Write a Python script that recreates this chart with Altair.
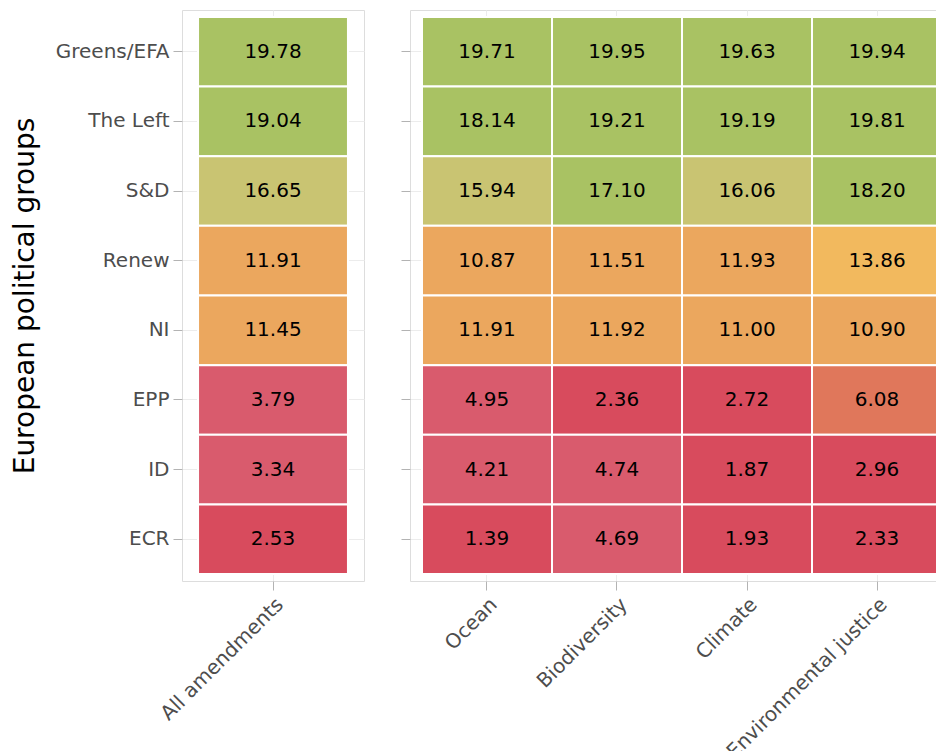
import altair as alt
import pandas as pd

groups = ["Greens/EFA", "The Left", "S&D", "Renew", "NI", "EPP", "ID", "ECR"]
all_amendments = [19.78, 19.04, 16.65, 11.91, 11.45, 3.79, 3.34, 2.53]
topics = ["Ocean", "Biodiversity", "Climate", "Environmental justice"]
ocean = [19.71, 18.14, 15.94, 10.87, 11.91, 4.95, 4.21, 1.39]
biodiversity = [19.95, 19.21, 17.10, 11.51, 11.92, 2.36, 4.74, 4.69]
climate = [19.63, 19.19, 16.06, 11.93, 11.00, 2.72, 1.87, 1.93]
env_justice = [19.94, 19.81, 18.20, 13.86, 10.90, 6.08, 2.96, 2.33]

color_breaks = [3, 5.5, 8, 13, 15, 17]
color_range = ["#D84B5D", "#D95B6D", "#E0775B", "#EBA75E", "#F2B95E", "#C9C472", "#A9C263"]

FONT = "DejaVu Sans"

left_df = pd.DataFrame({"group": groups, "category": "All amendments", "value": all_amendments})
rows = []
for t, vals in zip(topics, [ocean, biodiversity, climate, env_justice]):
    for g, v in zip(groups, vals):
        rows.append({"group": g, "category": t, "value": v})
right_df = pd.DataFrame(rows)

color = alt.Color("value:Q", scale=alt.Scale(type="threshold", domain=color_breaks, range=color_range), legend=None)

x_axis = alt.Axis(title=None, labelAngle=-45, labelAlign="right", labelBaseline="top",
                  labelFontSize=20, labelColor="#4D4D4D", labelFont=FONT, labelPadding=4,
                  labelLimit=0, tickSize=9, tickColor="#B3B3B3", domain=False, grid=True,
                  gridColor="#ECECEC", labelOverlap=False, zindex=0)


def panel(df, cats, xscale, width, yaxis):
    base = alt.Chart(df).encode(
        x=alt.X("category:N", sort=cats, axis=x_axis, scale=xscale),
        y=alt.Y("group:N", sort=groups, axis=yaxis,
                scale=alt.Scale(paddingInner=0, paddingOuter=0.1)),
    )
    rect = base.mark_rect(stroke="white", strokeWidth=2).encode(color=color)
    text = base.mark_text(fontSize=20, font=FONT, color="black").encode(
        text=alt.Text("value:Q", format=".2f"))
    return (rect + text).properties(width=width, height=571)


left_yaxis = alt.Axis(title="European political groups", titleFontSize=28, titleFont=FONT,
                      titleFontWeight="normal", titleColor="black", titlePadding=13,
                      labelFontSize=20, labelFont=FONT, labelColor="#4D4D4D", labelPadding=4,
                      tickSize=9, tickColor="#B3B3B3", domain=False, grid=True, gridColor="#ECECEC",
                      minExtent=130, maxExtent=130, zindex=0)
right_yaxis = alt.Axis(title=None, labels=False, tickSize=9, tickColor="#B3B3B3", domain=False,
                       grid=True, gridColor="#ECECEC", minExtent=9, maxExtent=9, zindex=0)

left = panel(left_df, ["All amendments"],
             alt.Scale(paddingInner=0, paddingOuter=0.107), 182, left_yaxis)
right = panel(right_df, topics,
              alt.Scale(paddingInner=0, paddingOuter=0.0923), 544, right_yaxis)

chart = alt.hconcat(left, right, spacing=35).properties(
    autosize=alt.AutoSizeParams(type="none"),
    padding={"left": 174, "top": 2, "right": 754, "bottom": 733}
).configure_view(stroke="#BDBDBD", strokeWidth=1.5).configure(background="white")

chart.save("out.html", embed_options={"renderer": "svg", "actions": False})
